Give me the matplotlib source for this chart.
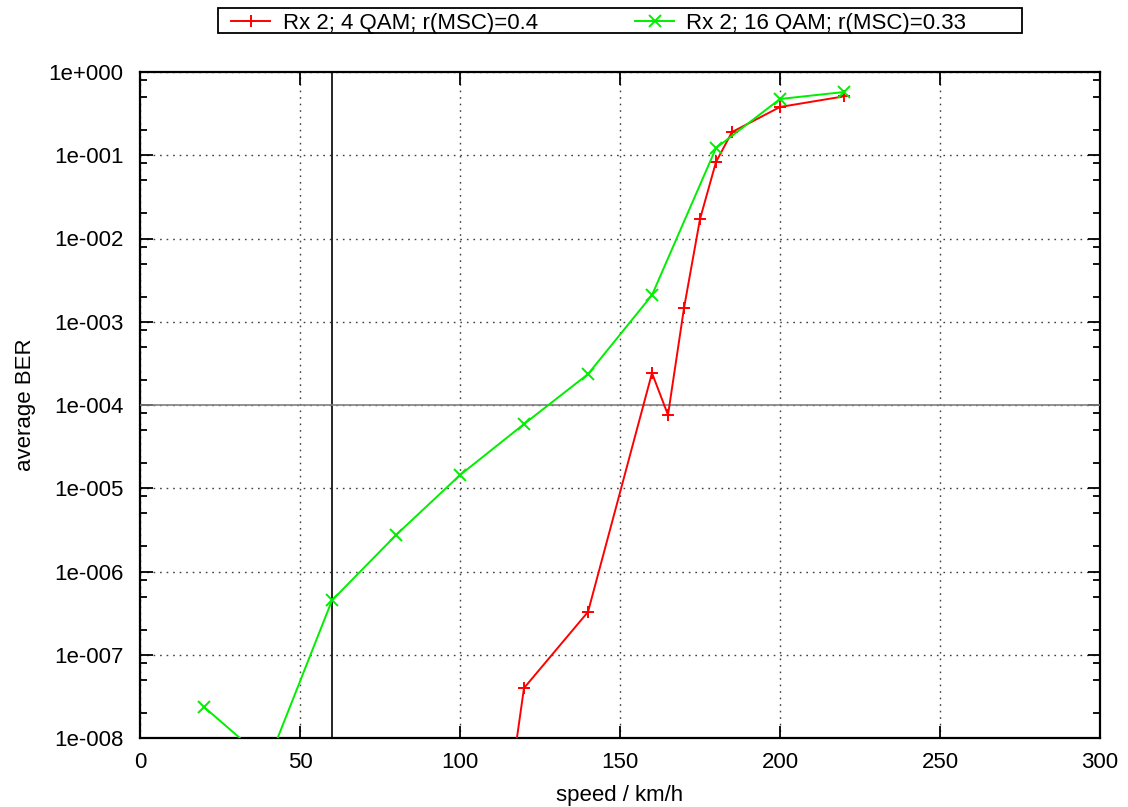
import math
import matplotlib
matplotlib.use("Agg")
import matplotlib.pyplot as plt
from matplotlib.ticker import FixedLocator, FuncFormatter
from matplotlib.lines import Line2D
from matplotlib.patches import Rectangle

plt.rcParams['font.family'] = ['Liberation Sans', 'DejaVu Sans']

# data
speed_red = [100, 120, 140, 160, 165, 170, 175, 180, 185, 200, 220]
ber_red = [1.5e-13, 3.98e-8, 3.27e-7, 2.42e-4, 7.6e-5, 1.46e-3, 1.71e-2, 8.3e-2, 0.19, 0.38, 0.51]
speed_green = [20, 40, 60, 80, 100, 120, 140, 160, 180, 200, 220]
ber_green = [2.36e-8, 5.1e-9, 4.5e-7, 2.74e-6, 1.44e-5, 5.9e-5, 2.35e-4, 2.09e-3, 0.122, 0.474, 0.575]
label_red = "Rx 2; 4 QAM; r(MSC)=0.4"
label_green = "Rx 2; 16 QAM; r(MSC)=0.33"
vline_x = 60
hline_y = 1e-4

W, H = 1128, 807
FS = 16
fig = plt.figure(figsize=(W / 100, H / 100), dpi=100)
ax = fig.add_axes([140 / W, 69 / H, 960 / W, 666 / H])
ax.set_yscale('log')
ax.set_xlim(0, 300)
ax.set_ylim(1e-8, 1e0)

red_style = dict(color='#ff0000', lw=1.4, marker='+', ms=9, mew=1.4)
green_style = dict(color='#00ee00', lw=1.4, marker='x', ms=8, mew=1.4)
ax.plot(speed_red, ber_red, zorder=4, **red_style)
ax.plot(speed_green, ber_green, zorder=4, **green_style)

ax.axvline(vline_x, color='black', lw=1.2, zorder=3)
ax.axhline(hline_y, color='#808080', lw=1.2, zorder=3)

ax.xaxis.set_major_locator(FixedLocator([0, 50, 100, 150, 200, 250, 300]))
majors = [10.0 ** e for e in range(-8, 1)]
minors = [m * 10.0 ** e for e in range(-8, 0) for m in (2, 5, 8)]
ax.yaxis.set_major_locator(FixedLocator(majors))
ax.yaxis.set_minor_locator(FixedLocator(minors))
ax.yaxis.set_major_formatter(FuncFormatter(lambda v, p: "1e{:+04d}".format(int(round(math.log10(v))))))
ax.yaxis.set_minor_formatter(FuncFormatter(lambda v, p: ""))

ax.tick_params(which='both', direction='in', top=True, right=True, labelsize=FS, width=1.3, color='black')
ax.tick_params(which='major', length=9)
ax.tick_params(which='minor', length=5)
ax.tick_params(axis='y', pad=12)
ax.tick_params(axis='x', pad=10)

ax.grid(True, which='major', linestyle=(0, (1.2, 3.5)), color='#404040', lw=1.0)
for s in ax.spines.values():
    s.set_linewidth(1.6)

ax.set_xlabel("speed / km/h", fontsize=FS, labelpad=9)
ax.set_ylabel("average BER", fontsize=FS, labelpad=9)

def fx(px):
    return px / W

def fy(py):
    return 1 - py / H

fig.add_artist(Rectangle((fx(218), fy(33)), fx(1022) - fx(218), fy(8) - fy(33),
                         transform=fig.transFigure, fill=False, edgecolor='black', lw=1.3))
ycen = fy(20.5)
fig.add_artist(Line2D([fx(231), fx(270)], [ycen, ycen], transform=fig.transFigure, color='#ff0000', lw=1.4))
fig.add_artist(Line2D([fx(250.5)], [ycen], transform=fig.transFigure, color='#ff0000', marker='+', ms=9, mew=1.4, lw=0))
fig.text(fx(283), ycen, label_red, fontsize=FS, ha='left', va='center_baseline')
fig.add_artist(Line2D([fx(635), fx(674)], [ycen, ycen], transform=fig.transFigure, color='#00ee00', lw=1.4))
fig.add_artist(Line2D([fx(654.5)], [ycen], transform=fig.transFigure, color='#00ee00', marker='x', ms=8, mew=1.4, lw=0))
fig.text(fx(686), ycen, label_green, fontsize=FS, ha='left', va='center_baseline')

fig.savefig("out.png", dpi=100)
